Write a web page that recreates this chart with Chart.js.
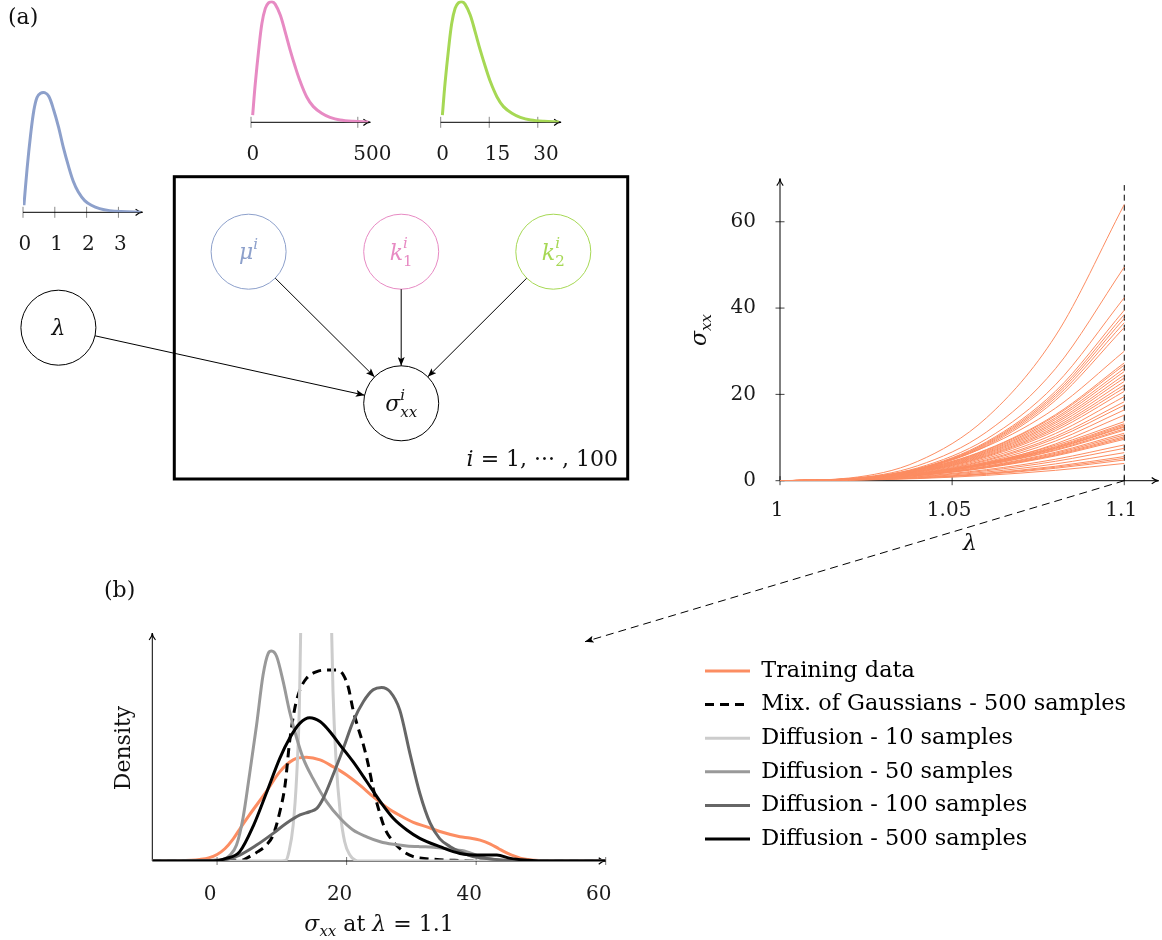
<!DOCTYPE html>
<html>
<head>
<meta charset="utf-8">
<title>Hierarchical model of σxx and predicted densities</title>
<script src="https://cdn.jsdelivr.net/npm/chart.js@4.4.1/dist/chart.umd.min.js"></script>
<style>
  html, body { margin: 0; padding: 0; background: #fff; }
  #page { position: relative; width: 1162px; height: 940px; overflow: hidden; background: #fff; }
  #page canvas { position: absolute; }
  #overlay { position: absolute; left: 0; top: 0; pointer-events: none; }
  #overlay text { white-space: pre; }
</style>
</head>
<body>
<div id="page">
  <canvas id="muChart" width="220" height="190" style="left:0px;top:70px"></canvas>
  <canvas id="k1Chart" width="220" height="170" style="left:230px;top:0px"></canvas>
  <canvas id="k2Chart" width="220" height="170" style="left:420px;top:0px"></canvas>
  <canvas id="stressChart" width="472" height="400" style="left:690px;top:170px"></canvas>
  <canvas id="densityChart" width="1062" height="340" style="left:100px;top:600px"></canvas>

  <svg id="overlay" width="1162" height="940" viewBox="0 0 1162 940"
       font-family="'DejaVu Serif', 'Liberation Serif', serif" font-size="22" fill="#111">
    <defs>
      <marker id="tip" viewBox="0 0 10 8" refX="10" refY="4" markerWidth="9" markerHeight="7"
              markerUnits="userSpaceOnUse" orient="auto">
        <path d="M0,0 L10,4 L0,8 L2.2,4 Z" fill="#000"/>
      </marker>
    </defs>

    <text x="8" y="24">(a)</text>
    <text x="104" y="597">(b)</text>

    <!-- plate -->
    <rect x="174.3" y="176.7" width="453.4" height="302.3" fill="none" stroke="#000" stroke-width="3"/>
    <text x="618" y="466" text-anchor="end"><tspan font-style="italic">i</tspan> = 1, ··· , 100</text>

    <!-- nodes -->
    <g fill="none" stroke-width="1">
      <circle cx="248.6" cy="251.7" r="37.5" stroke="#8da0cb"/>
      <circle cx="401.2" cy="251.7" r="37.5" stroke="#e78ac3"/>
      <circle cx="553.3" cy="251.7" r="37.5" stroke="#a6d854"/>
      <circle cx="401.2" cy="403.3" r="37.5" stroke="#000"/>
      <circle cx="58.4" cy="327.7" r="37.5" stroke="#000"/>
    </g>
    <text x="248.6" y="259" text-anchor="middle" fill="#8da0cb" font-style="italic">μ<tspan font-size="15" dy="-10">i</tspan></text>
    <text x="401.2" y="260" text-anchor="middle" fill="#e78ac3" font-style="italic">k<tspan font-size="15" dy="-12">i</tspan><tspan font-size="15" font-style="normal" dx="-4.8" dy="18">1</tspan></text>
    <text x="553.3" y="260" text-anchor="middle" fill="#a6d854" font-style="italic">k<tspan font-size="15" dy="-12">i</tspan><tspan font-size="15" font-style="normal" dx="-4.8" dy="18">2</tspan></text>
    <text x="401.2" y="411" text-anchor="middle" font-style="italic">σ<tspan font-size="15" dy="-11">i</tspan><tspan font-size="15" dx="-4.8" dy="17">xx</tspan></text>
    <text x="58.4" y="335" text-anchor="middle" font-style="italic">λ</text>

    <!-- edges -->
    <g stroke="#000" stroke-width="1" marker-end="url(#tip)">
      <line x1="275.2" y1="278.1" x2="374.6" y2="376.9"/>
      <line x1="401.2" y1="289.2" x2="401.2" y2="365.8"/>
      <line x1="526.7" y1="278.2" x2="427.8" y2="376.8"/>
      <line x1="95.0" y1="335.8" x2="364.6" y2="395.2"/>
    </g>

    <!-- link from λ = 1.1 to the density panel -->
    <line x1="1124.3" y1="480.7" x2="585" y2="641.7" stroke="#000" stroke-width="1"
          stroke-dasharray="8 5" marker-end="url(#tip)"/>

    <!-- axis titles -->
    <text transform="translate(706,330) rotate(-90)" text-anchor="middle" font-style="italic">σ<tspan font-size="15" dy="5">xx</tspan></text>
    <text x="970" y="550" text-anchor="middle" font-style="italic">λ</text>
    <text x="379" y="931" text-anchor="middle"><tspan font-style="italic">σ</tspan><tspan font-style="italic" font-size="15" dy="5">xx</tspan><tspan dy="-5"> at </tspan><tspan font-style="italic">λ</tspan> = 1.1</text>
    <text transform="translate(130,748) rotate(-90)" text-anchor="middle">Density</text>
  </svg>
</div>

<script>
// ---- prior densities (normalised to peak = 1) ----
const muValues   = [0.03, 0.13, 0.24, 0.34, 0.44, 0.55, 0.68, 0.81, 0.96, 1.12, 1.27, 1.43, 1.58, 1.74, 1.94, 2.15, 2.41, 2.72, 3.08, 3.7];
const muDensity  = [0.059, 0.37, 0.65, 0.85, 0.96, 0.995, 1.0, 0.97, 0.86, 0.71, 0.54, 0.386, 0.26, 0.17, 0.098, 0.059, 0.031, 0.014, 0.006, 0.001];
const muTicks    = [0, 1, 2, 3];
const muTickLabels = ['0', '1', '2', '3'];

const k1Values   = [7.8, 20, 36, 51, 67, 82, 98, 113, 137, 160, 183, 207, 230, 261, 292, 331, 370, 417, 479, 549];
const k1Density  = [0.06, 0.32, 0.60, 0.82, 0.945, 0.99, 1.0, 0.98, 0.89, 0.75, 0.60, 0.46, 0.34, 0.21, 0.13, 0.075, 0.041, 0.019, 0.008, 0.003];
const k1Ticks    = [0, 500];
const k1TickLabels = ['0', '500'];

const k2Values   = [0.52, 1.33, 2.4, 3.4, 4.46, 5.46, 6.52, 7.52, 9.12, 10.65, 12.2, 13.8, 15.3, 17.4, 19.4, 22.0, 24.6, 27.8, 31.9, 36.5];
const k2Density  = [0.06, 0.32, 0.60, 0.82, 0.945, 0.99, 1.0, 0.98, 0.89, 0.75, 0.60, 0.46, 0.34, 0.21, 0.13, 0.075, 0.041, 0.019, 0.008, 0.003];
const k2Ticks    = [0, 15, 30];
const k2TickLabels = ['0', '15', '30'];

// ---- stress–stretch training curves ----
const stretchGrid = [1.00, 1.02, 1.04, 1.06, 1.08, 1.10];
const stressCurves = [
  [0, 0.61, 4.48, 14.59, 33.54, 64.0],
  [0, 0.47, 3.47, 11.29, 25.94, 49.5],
  [0, 0.40, 2.97, 9.67, 22.22, 42.4],
  [0, 0.38, 2.77, 9.01, 20.70, 39.5],
  [0, 0.37, 2.70, 8.78, 20.17, 38.5],
  [0, 0.36, 2.63, 8.57, 19.70, 37.6],
  [0, 0.35, 2.56, 8.34, 19.18, 36.6],
  [0, 0.34, 2.49, 8.09, 18.60, 35.5],
  [0, 0.46, 2.77, 7.95, 16.80, 30.0],
  [0, 0.41, 2.52, 7.23, 15.29, 27.3],
  [0, 0.41, 2.47, 7.10, 15.01, 26.8],
  [0, 0.40, 2.40, 6.89, 14.56, 26.0],
  [0, 0.38, 2.34, 6.70, 14.17, 25.3],
  [0, 0.37, 2.26, 6.49, 13.72, 24.5],
  [0, 0.36, 2.20, 6.31, 13.33, 23.8],
  [0, 0.35, 2.12, 6.10, 12.88, 23.0],
  [0, 0.34, 2.05, 5.88, 12.43, 22.2],
  [0, 0.33, 1.98, 5.70, 12.04, 21.5],
  [0, 0.31, 1.91, 5.49, 11.59, 20.7],
  [0, 0.30, 1.80, 5.17, 10.92, 19.5],
  [0, 0.28, 1.69, 4.85, 10.25, 18.3],
  [0, 0.27, 1.62, 4.64, 9.80, 17.5],
  [0, 0.25, 1.51, 4.35, 9.18, 16.4],
  [0, 0.23, 1.40, 4.03, 8.51, 15.2],
  [0, 0.34, 1.66, 4.23, 8.21, 13.7],
  [0, 0.33, 1.60, 4.08, 7.91, 13.2],
  [0, 0.32, 1.57, 3.99, 7.73, 12.9],
  [0, 0.31, 1.53, 3.89, 7.55, 12.6],
  [0, 0.31, 1.51, 3.83, 7.43, 12.4],
  [0, 0.30, 1.46, 3.71, 7.19, 12.0],
  [0, 0.29, 1.42, 3.62, 7.01, 11.7],
  [0, 0.27, 1.34, 3.40, 6.59, 11.0],
  [0, 0.26, 1.29, 3.28, 6.35, 10.6],
  [0, 0.25, 1.24, 3.15, 6.11, 10.2],
  [0, 0.24, 1.20, 3.06, 5.93, 9.9],
  [0, 0.24, 1.17, 2.97, 5.75, 9.6],
  [0, 0.21, 1.01, 2.56, 4.97, 8.3],
  [0, 0.19, 0.91, 2.32, 4.49, 7.5],
  [0, 0.16, 0.79, 2.01, 3.89, 6.5],
  [0, 0.14, 0.68, 1.73, 3.35, 5.6],
  [0, 0.13, 0.63, 1.61, 3.11, 5.2],
  [0, 0.12, 0.58, 1.48, 2.88, 4.8],
  [0, 0.10, 0.49, 1.24, 2.40, 4.0]
];
const markerLambda = [1.1, 1.1];
const markerStress = [0, 68.5];
const lambdaTicks = [1, 1.05, 1.1];
const lambdaTickLabels = ['1', '1.05', '1.1'];
const stressTicks = [0, 20, 40, 60];
const stressTickLabels = ['0', '20', '40', '60'];

// ---- densities of σxx at λ = 1.1 ----
const seriesLabels = [
  'Training data',
  'Mix. of Gaussians - 500 samples',
  'Diffusion - 10 samples',
  'Diffusion - 50 samples',
  'Diffusion - 100 samples',
  'Diffusion - 500 samples'
];
const trainingX = [-10, -6, -4, -2.7, -1.3, 0, 1.2, 2.5, 3.7, 5, 7.6, 9.7, 11.75, 13.8, 15.9, 17.9, 20, 22, 24.1, 26.2, 28.2, 30.3, 32.5, 34.4, 37.5, 39, 40.6, 42.2, 43.5, 44.8, 46.8, 49, 52, 60];
const trainingY = [0, 0.0001, 0.0003, 0.0006, 0.0012, 0.0025, 0.0047, 0.0085, 0.013, 0.0177, 0.0266, 0.0343, 0.0388, 0.0398, 0.0388, 0.0362, 0.033, 0.0292, 0.0247, 0.0205, 0.0175, 0.0148, 0.013, 0.0113, 0.0093, 0.0088, 0.008, 0.0065, 0.0047, 0.003, 0.0011, 0.0003, 0, 0];

const mixtureX = [-10, 4, 5, 6.3, 7.6, 8.66, 9.7, 10.5, 11.2, 12, 12.8, 13.8, 15.4, 16.9, 18.45, 19.5, 20.3, 21, 21.8, 22.6, 23.35, 24.1, 24.9, 25.9, 27.2, 28.8, 30.3, 31.3, 34.4, 37.5, 40, 60];
const mixtureY = [0, 0.0004, 0.0017, 0.0036, 0.0061, 0.01, 0.019, 0.0292, 0.0458, 0.0586, 0.0657, 0.0701, 0.0727, 0.0733, 0.0733, 0.0714, 0.0663, 0.058, 0.0509, 0.0445, 0.0369, 0.0279, 0.0202, 0.0125, 0.0074, 0.0036, 0.0017, 0.0012, 0.0005, 0.0002, 0, 0];

const diff10X = [-10, 10, 10.6, 11.1, 11.75, 12.3, 12.7, 12.9, 13.2, 14, 15.3, 16.5, 17.3, 17.7, 17.9, 18.35, 19, 19.7, 20.5, 21.3, 22, 60];
const diff10Y = [0, 0, 0.0002, 0.0036, 0.0138, 0.033, 0.0586, 0.087, 0.13, 0.2, 0.23, 0.2, 0.14, 0.087, 0.065, 0.0394, 0.0189, 0.0074, 0.0023, 0.0004, 0, 0];

const diff50X = [-10, 0.4, 2, 3, 4, 5, 6.1, 7.1, 7.9, 8.4, 9.2, 10.2, 11.2, 12.3, 13.3, 14.8, 16.9, 19, 21, 23.1, 25.2, 27.2, 29.3, 31.3, 33.4, 36, 38.5, 40.6, 42.7, 46, 60];
const diff50Y = [0, 0.0004, 0.0023, 0.0061, 0.0164, 0.033, 0.0522, 0.0714, 0.0797, 0.0806, 0.0785, 0.0689, 0.0573, 0.0471, 0.0394, 0.0317, 0.0228, 0.0164, 0.0119, 0.0093, 0.0074, 0.0064, 0.0058, 0.0055, 0.0053, 0.0045, 0.0036, 0.0017, 0.0006, 0, 0];

const diff100X = [-10, 0.9, 3.5, 6.1, 8.66, 10.7, 12.8, 14.3, 15.4, 16.4, 17.9, 19.5, 21, 22.6, 24.1, 25.4, 26.7, 28.2, 29.8, 31.3, 32.9, 34.4, 36, 37.5, 39.5, 41.6, 44, 47, 60];
const diff100Y = [0, 0.0004, 0.0023, 0.0061, 0.0106, 0.0145, 0.0177, 0.0189, 0.0202, 0.0241, 0.033, 0.0433, 0.0535, 0.0612, 0.0657, 0.0666, 0.065, 0.058, 0.041, 0.026, 0.0145, 0.0085, 0.0055, 0.0036, 0.0017, 0.001, 0.0004, 0, 0];

const diff500X = [-10, -0.6, 1.4, 3.5, 5.6, 7.6, 9.7, 11.2, 12.8, 14.3, 15.9, 17.4, 19, 21, 23.1, 25.2, 27.2, 29.3, 31.3, 34.4, 37.5, 40.6, 43.2, 45.3, 47.9, 50, 60];
const diff500Y = [0, 0, 0.001, 0.0036, 0.0135, 0.026, 0.0395, 0.0471, 0.0529, 0.055, 0.0535, 0.0497, 0.0445, 0.0381, 0.0305, 0.0228, 0.0164, 0.0119, 0.0087, 0.0055, 0.0029, 0.0023, 0.0023, 0.001, 0.0003, 0, 0];

const sigmaTicks = [0, 20, 40, 60];
const sigmaTickLabels = ['0', '20', '40', '60'];

// ---------------------------------------------------------------
const SERIF = "'DejaVu Serif', 'Liberation Serif', serif";
Chart.defaults.font.family = SERIF;
Chart.defaults.font.size = 20;
Chart.defaults.color = '#1a1a1a';

const pts = (xs, ys) => xs.map((x, i) => ({ x, y: ys[i] }));
const fixedTicks = (values) => (scale) => { scale.ticks = values.map(v => ({ value: v })); };
// fixed axis box size, and no extra room reserved for overhanging labels
const boxHeight = (h) => (s) => { s.height = h; s.paddingLeft = 0; s.paddingRight = 0; s.paddingTop = 0; s.paddingBottom = 0; };
const boxWidth = (w) => (s) => { s.width = w; s.paddingLeft = 0; s.paddingRight = 0; s.paddingTop = 0; s.paddingBottom = 0; };

function arrowHead(ctx, x, y, dx, dy) {
  const L = 7, H = 3.2;
  const bx = x - dx * L, by = y - dy * L;
  const px = -dy, py = dx;
  ctx.beginPath();
  ctx.moveTo(bx + px * H, by + py * H);
  ctx.quadraticCurveTo(x - dx * 3, y - dy * 3, x, y);
  ctx.quadraticCurveTo(x - dx * 3, y - dy * 3, bx - px * H, by - py * H);
  ctx.stroke();
}

// axis lines with arrow tips and centred tick marks
const axisDecor = {
  id: 'axisDecor',
  beforeDatasetsDraw(chart, args, o) {
    const { ctx, chartArea: a } = chart;
    const xs = chart.scales.x, ys = chart.scales.y;
    ctx.save();
    ctx.lineCap = 'butt';
    ctx.strokeStyle = o.tickColor;
    ctx.lineWidth = 1;
    ctx.beginPath();
    xs.ticks.forEach(t => {
      const p = xs.getPixelForValue(t.value);
      ctx.moveTo(p, a.bottom - o.tickHalf);
      ctx.lineTo(p, a.bottom + o.tickHalf);
    });
    if (o.yTicks) {
      ys.ticks.forEach(t => {
        const p = ys.getPixelForValue(t.value);
        ctx.moveTo(a.left - o.tickHalf, p);
        ctx.lineTo(a.left + o.tickHalf, p);
      });
    }
    ctx.stroke();
    ctx.strokeStyle = '#000';
    ctx.lineWidth = 1;
    ctx.beginPath();
    ctx.moveTo(a.left, a.bottom);
    ctx.lineTo(a.right, a.bottom);
    if (o.yAxis) { ctx.moveTo(a.left, a.bottom); ctx.lineTo(a.left, a.top); }
    ctx.stroke();
    ctx.lineWidth = 1.1;
    arrowHead(ctx, a.right, a.bottom, 1, 0);
    if (o.yAxis) arrowHead(ctx, a.left, a.top, 0, -1);
    ctx.restore();
  }
};

// puts the legend block beside the plot instead of inside it
const legendPlacer = {
  id: 'legendPlacer',
  beforeDraw(chart, args, o) {
    const lg = chart.legend;
    if (!lg) return;
    lg.left = o.left; lg.top = o.top;
    lg.width = o.width; lg.height = o.height;
    lg.right = o.left + o.width; lg.bottom = o.top + o.height;
  }
};

function priorChart(id, xs, ys, color, xMax, yMax, ticks, labels, pad) {
  return new Chart(document.getElementById(id), {
    type: 'line',
    data: { datasets: [{ data: pts(xs, ys), borderColor: color, borderWidth: 3, pointRadius: 0,
                         cubicInterpolationMode: 'default', tension: 0.35, fill: false }] },
    options: {
      responsive: false, animation: false, events: [],
      layout: { padding: pad },
      plugins: { legend: { display: false }, tooltip: { enabled: false },
                 axisDecor: { tickHalf: 5.5, tickColor: '#888', yAxis: false, yTicks: false } },
      scales: {
        x: { type: 'linear', min: 0, max: xMax,
             afterBuildTicks: fixedTicks(ticks),
             afterFit: boxHeight(47.7),
             grid: { display: false }, border: { display: false },
             ticks: { autoSkip: false, maxRotation: 0, padding: 12.5, align: 'start', labelOffset: -4.5,
                      callback: (v, i) => labels[i] } },
        y: { display: false, min: 0, max: yMax }
      }
    },
    plugins: [axisDecor]
  });
}

priorChart('muChart', muValues, muDensity, '#8da0cb', 3.76, 1.05, muTicks, muTickLabels,
           { left: 23, right: 77.4, top: 16.7, bottom: 0 });
priorChart('k1Chart', k1Values, k1Density, '#e78ac3', 559, 1.01, k1Ticks, k1TickLabels,
           { left: 21, right: 79.6, top: 0.5, bottom: 0 });
priorChart('k2Chart', k2Values, k2Density, '#a6d854', 37.2, 1.01, k2Ticks, k2TickLabels,
           { left: 20.7, right: 78.9, top: 0.5, bottom: 0 });

// stress–stretch curves
new Chart(document.getElementById('stressChart'), {
  type: 'line',
  data: {
    datasets: [
      ...stressCurves.map(c => ({ data: pts(stretchGrid, c), borderColor: '#fc8d62', borderWidth: 1,
                                  cubicInterpolationMode: 'monotone' })),
      { data: pts(markerLambda, markerStress), borderColor: '#000', borderWidth: 1, borderDash: [6, 4],
        tension: 0, cubicInterpolationMode: 'default' }
    ]
  },
  options: {
    responsive: false, animation: false, events: [],
    layout: { padding: { left: 0, right: 3.3, top: 8.6, bottom: 0 } },
    elements: { point: { radius: 0 }, line: { fill: false } },
    plugins: { legend: { display: false }, tooltip: { enabled: false },
               axisDecor: { tickHalf: 4.5, tickColor: '#444', yAxis: true, yTicks: true } },
    scales: {
      x: { type: 'linear', min: 1, max: 1.11,
           afterBuildTicks: fixedTicks(lambdaTicks),
           afterFit: boxHeight(89.3),
           grid: { display: false }, border: { display: false },
           ticks: { autoSkip: false, maxRotation: 0, padding: 10.3, labelOffset: -3,
                    callback: (v, i) => lambdaTickLabels[i] } },
      y: { type: 'linear', min: 0, max: 70,
           afterBuildTicks: fixedTicks(stressTicks),
           afterFit: boxWidth(90),
           grid: { display: false }, border: { display: false },
           ticks: { padding: 16, callback: (v, i) => stressTickLabels[i] } }
    }
  },
  plugins: [axisDecor]
});

// densities at λ = 1.1
const densitySeries = [
  { x: trainingX, y: trainingY, color: '#fc8d62', dash: [], order: 6 },
  { x: mixtureX, y: mixtureY, color: '#000000', dash: [9, 6], order: 5 },
  { x: diff10X, y: diff10Y, color: '#cccccc', dash: [], order: 4 },
  { x: diff50X, y: diff50Y, color: '#999999', dash: [], order: 3 },
  { x: diff100X, y: diff100Y, color: '#666666', dash: [], order: 2 },
  { x: diff500X, y: diff500Y, color: '#000000', dash: [], order: 1 }
];

new Chart(document.getElementById('densityChart'), {
  type: 'line',
  data: {
    datasets: densitySeries.map((s, i) => ({
      label: seriesLabels[i], data: pts(s.x, s.y), borderColor: s.color, borderWidth: 3,
      borderDash: s.dash, order: s.order, cubicInterpolationMode: 'monotone'
    }))
  },
  options: {
    responsive: false, animation: false, events: [],
    layout: { padding: { left: 52.3, right: 556.3, top: 33, bottom: 0 } },
    elements: { point: { radius: 0 }, line: { fill: false, borderJoinStyle: 'round' } },
    plugins: {
      tooltip: { enabled: false },
      legend: {
        display: true, position: 'chartArea', align: 'start',
        labels: {
          usePointStyle: true, pointStyleWidth: 45, padding: 11.2,
          font: { size: 22.4, family: SERIF }, color: '#111',
          generateLabels: (chart) => chart.data.datasets.map((ds, i) => ({
            text: ds.label, strokeStyle: ds.borderColor, fillStyle: ds.borderColor,
            lineWidth: 3, lineDash: ds.borderDash || [], lineCap: 'butt',
            pointStyle: 'line', hidden: false, datasetIndex: i
          }))
        }
      },
      legendPlacer: { left: 593.8, top: 48.6, width: 468, height: 220 },
      axisDecor: { tickHalf: 4, tickColor: '#777', yAxis: true, yTicks: false }
    },
    scales: {
      x: { type: 'linear', min: -10, max: 60,
           afterBuildTicks: fixedTicks(sigmaTicks),
           afterFit: boxHeight(79),
           grid: { display: false }, border: { display: false },
           ticks: { autoSkip: false, maxRotation: 0, padding: 14, labelOffset: -7,
                    callback: (v, i) => sigmaTickLabels[i] } },
      y: { display: false, min: 0, max: 0.0875 }
    }
  },
  plugins: [axisDecor, legendPlacer]
});
</script>
</body>
</html>
